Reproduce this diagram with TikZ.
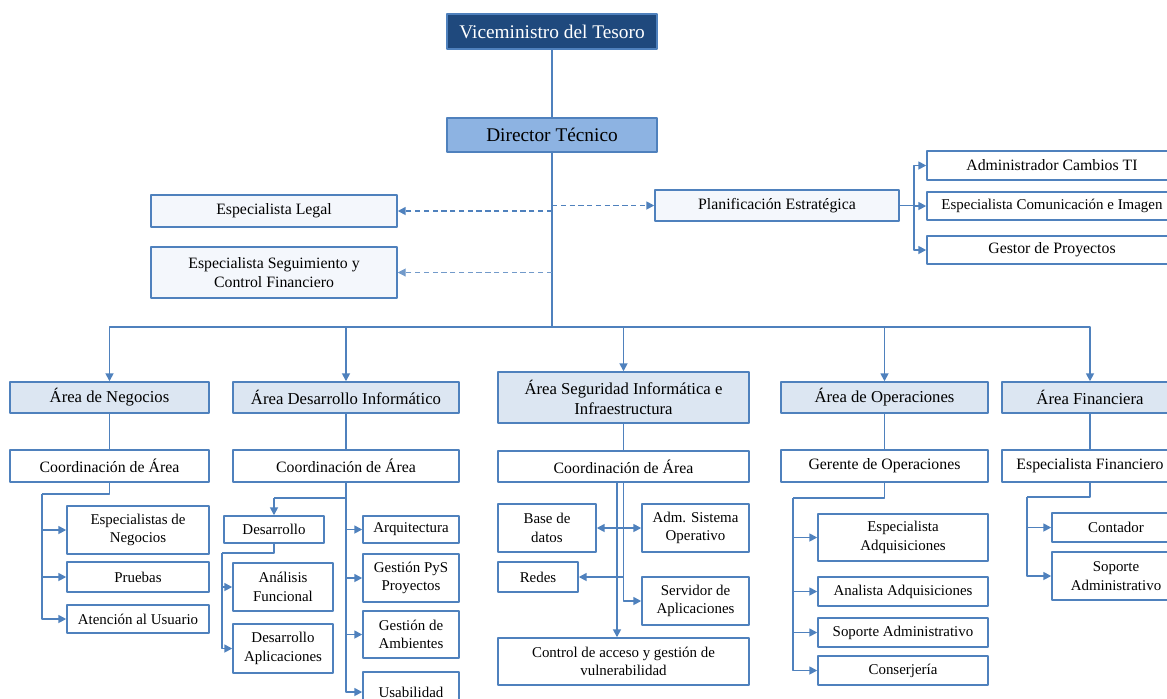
\documentclass[tikz,border=0pt]{standalone}
\usepackage{fontspec}
\setmainfont{Liberation Serif}
\usepackage{xcolor}
\usepackage{tikz}
\usetikzlibrary{positioning,calc,arrows.meta}

\definecolor{lnblue}{HTML}{4F81BD}
\definecolor{navy}{HTML}{1F497D}
\definecolor{dirfill}{HTML}{8DB3E2}
\definecolor{areafill}{HTML}{DCE6F2}
\definecolor{sidefill}{HTML}{F4F7FC}

\begin{document}
\begin{tikzpicture}[
				x=0.02cm,y=-0.02cm,
				>={Triangle[length=4.5pt,width=4.5pt]},
				line join=round,
				font=\fontsize{9}{10.5}\selectfont,
				box/.style={draw=lnblue, line width=0.85pt, fill=white, inner sep=1pt, align=center},
				kid/.style={box, font=\fontsize{8.5}{10.5}\selectfont},
				topbox/.style={box, fill=navy, text=white, font=\fontsize{11}{13}\selectfont},
				dirbox/.style={box, fill=dirfill, font=\fontsize{11}{13}\selectfont},
				area/.style={box, fill=areafill, font=\fontsize{9.5}{11.5}\selectfont},
				side/.style={box, fill=sidefill},
				link/.style={draw=lnblue, line width=1pt},
				arr/.style={link, ->},
				dasharr/.style={link, ->, dash pattern=on 3pt off 2pt},
				dashlite/.style={dasharr, line width=0.6pt, draw=lnblue!80}
				]
				\useasboundingbox (0,0) rectangle (1167,698);
				%----- box macro: name, x1, y1, x2, y2 (pixels), style, text
				\def\bx#1#2#3#4#5#6#7{\node[#6, minimum width={(#4-#2)*0.02cm}, minimum height={(#5-#3)*0.02cm}] (#1) at ({(#2+#4)/2},{(#3+#5)/2}) {#7};}
				
				%----- top of the chart
				\bx{vice}{447}{14}{657}{49}{topbox}{Viceministro del Tesoro}
				\bx{dir}{447}{118}{657}{152}{dirbox}{Director Técnico}
				
				%----- staff boxes
				\bx{legal}{151}{195}{397}{227}{side}{Especialista Legal}
				\bx{seg}{151}{247}{397}{298}{side}{Especialista Seguimiento y\\Control Financiero}
				\bx{plan}{655}{190}{899}{221}{side}{Planificación Estratégica}
				\bx{adm}{927}{151}{1177}{180}{box}{Administrador Cambios TI}
				\bx{com}{927}{192}{1177}{220}{kid}{Especialista Comunicación e Imagen}
				\bx{gest}{927}{236}{1177}{264}{box}{Gestor de Proyectos}
				
				%----- areas
				\bx{aneg}{10}{382}{209}{413}{area}{Área de Negocios}
				\bx{ades}{233}{382}{459}{413}{area}{Área Desarrollo Informático}
				\bx{aseg}{498}{372}{749}{423}{area}{Área Seguridad Informática e\\Infraestructura}
				\bx{aope}{781}{382}{988}{413}{area}{Área de Operaciones}
				\bx{afin}{1002}{382}{1178}{413}{area}{Área Financiera}
				
				%----- coordination row
				\bx{cneg}{10}{450}{209}{482}{box}{Coordinación de Área}
				\bx{cdes}{233}{450}{459}{482}{box}{Coordinación de Área}
				\bx{cseg}{498}{451}{749}{482}{box}{Coordinación de Área}
				\bx{cope}{781}{450}{988}{482}{box}{Gerente de Operaciones}
				\bx{cfin}{1002}{450}{1178}{482}{box}{Especialista Financiero}
				
				%----- negocios
				\bx{espneg}{67}{506}{209}{554}{kid}{Especialistas de\\Negocios}
				\bx{prue}{67}{562}{209}{592}{kid}{Pruebas}
				\bx{aten}{67}{605}{209}{633}{kid}{Atención al Usuario}
				
				%----- desarrollo
				\bx{desa}{224}{516}{324}{543}{kid}{Desarrollo}
				\bx{anal}{233}{563}{333}{611}{kid}{Análisis\\Funcional}
				\bx{desap}{233}{624}{333}{673}{kid}{Desarrollo\\Aplicaciones}
				\bx{arq}{363}{516}{459}{543}{kid}{Arquitectura}
				\bx{pys}{363}{554}{459}{602}{kid}{Gestión PyS\\Proyectos}
				\bx{amb}{363}{611}{459}{658}{kid}{Gestión de\\Ambientes}
				\bx{usa}{363}{672}{459}{712}{kid}{Usabilidad}
				
				%----- seguridad
				\bx{bd}{498}{504}{596}{552}{kid}{Base de\\datos}
				\bx{aso}{642}{504}{749}{552}{kid}{Adm. Sistema\\Operativo}
				\bx{redes}{498}{562}{578}{592}{kid}{Redes}
				\bx{serv}{642}{577}{749}{625}{kid}{Servidor de\\Aplicaciones}
				\bx{ctrl}{498}{638}{749}{685}{kid}{Control de acceso y gestión de\\vulnerabilidad}
				
				%----- operaciones
				\bx{espadq}{818}{514}{988}{561}{kid}{Especialista\\Adquisiciones}
				\bx{anadq}{818}{577}{988}{606}{kid}{Analista Adquisiciones}
				\bx{sopo}{818}{618}{988}{647}{kid}{Soporte Administrativo}
				\bx{conse}{818}{656}{988}{685}{kid}{Conserjería}
				
				%----- financiera
				\bx{cont}{1052}{513}{1180}{542}{kid}{Contador}
				\bx{sopf}{1052}{552}{1180}{600}{kid}{Soporte\\Administrativo}
				
				%===== connectors
				\coordinate (bus) at (552,327);
				\draw[link] (vice) -- (dir);
				\draw[link] (dir) -- (bus);
				\draw[dasharr] (dir.south |- legal.east) -- (legal.east);
				\draw[dasharr] (dir.south |- plan.west) -- (plan.west);
				\draw[dashlite] (dir.south |- seg.east) -- (seg.east);
				
				\coordinate (pbus) at ($(plan.east)+(14,0)$);
				\draw[link] (plan.east) -- (pbus);
				\foreach \c in {adm,com,gest}{
					\draw[arr] (pbus) |- (\c.west);
				}
				
				\foreach \a/\c in {aneg/cneg,ades/cdes,aseg/cseg,aope/cope,afin/cfin}{
					\draw[arr] (bus) -| (\a.north);
					\draw[link] (\a) -- (\c);
				}
				
				% negocios
				\coordinate (nbus) at (42,494);
				\draw[link] (cneg.south) |- (nbus);
				\foreach \c in {espneg,prue,aten}{
					\draw[arr] (nbus) |- (\c.west);
				}
				
				% desarrollo
				\coordinate (dbus) at (274,498);
				\draw[link] (cdes.south) |- (dbus);
				\draw[arr] (dbus) -- (desa.north);
				\coordinate (dbus2) at (222,553);
				\draw[link] (desa.south) |- (dbus2);
				\foreach \c in {anal,desap}{
					\draw[arr] (dbus2) |- (\c.west);
				}
				\foreach \c in {arq,pys,amb,usa}{
					\draw[arr] (cdes.south) |- (\c.west);
				}
				
				% seguridad
				\coordinate (sA) at (617,482);
				\draw[arr] (sA) -- (sA |- ctrl.north);
				\draw[arr] (cseg.south) |- (redes.east);
				\draw[arr] (cseg.south) |- (serv.west);
				\draw[link, <->] (bd.east) -- (aso.west);
				
				% operaciones
				\coordinate (obus) at (793,498);
				\draw[link] (cope.south) |- (obus);
				\foreach \c in {espadq,anadq,sopo,conse}{
					\draw[arr] (obus) |- (\c.west);
				}
				
				% financiera
				\coordinate (fbus) at (1027,497);
				\draw[link] (cfin.south) |- (fbus);
				\foreach \c in {cont,sopf}{
					\draw[arr] (fbus) |- (\c.west);
				}
			\end{tikzpicture}
\end{document}
